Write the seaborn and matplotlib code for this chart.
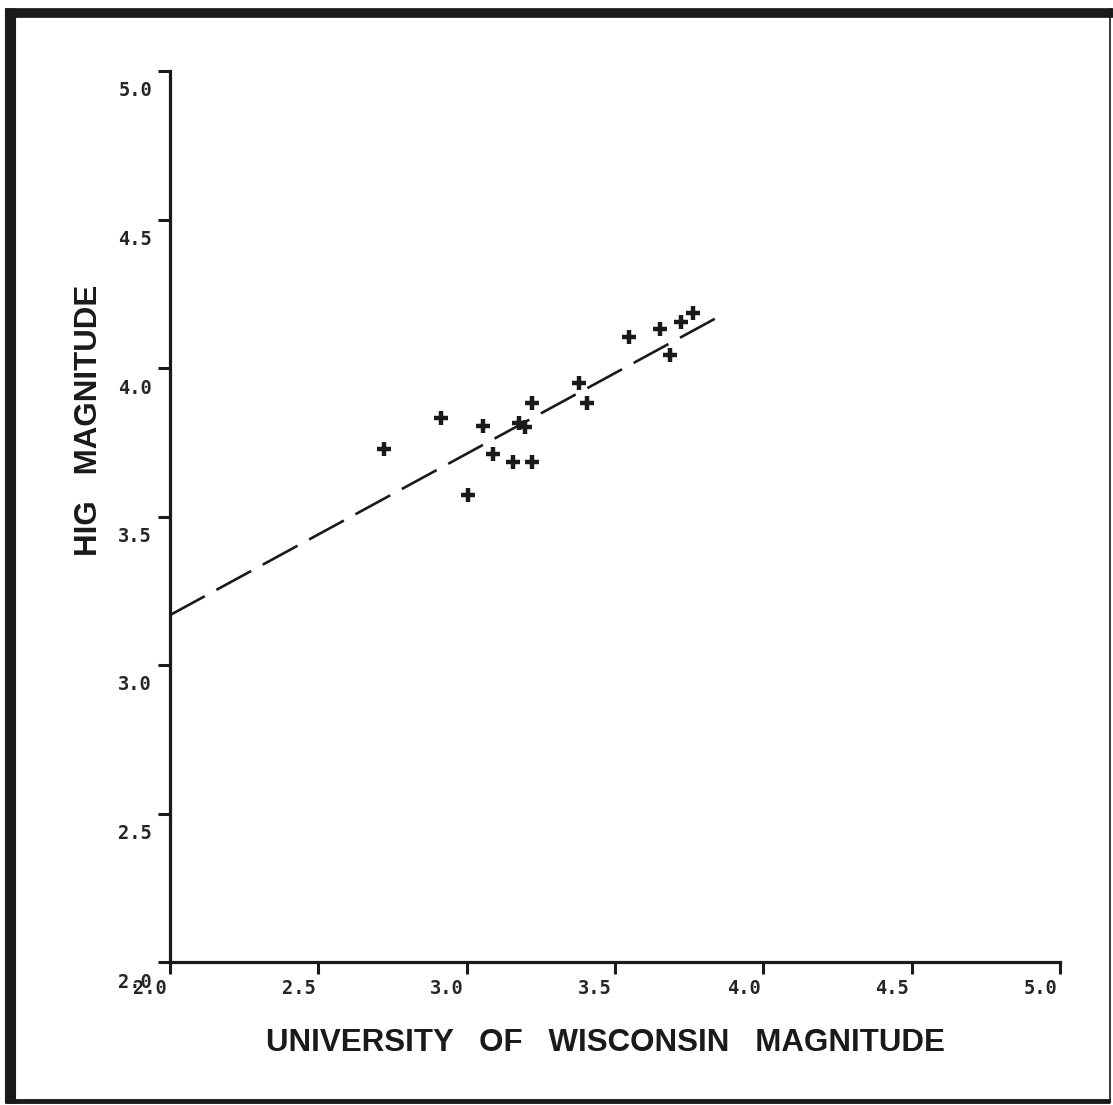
import matplotlib
matplotlib.use("Agg")
import matplotlib.pyplot as plt
import matplotlib.transforms as mtransforms
from matplotlib.lines import Line2D
import seaborn as sns
import pandas as pd

# ---- data ----
uw_mag = [2.72, 2.915, 3.056, 3.004, 3.088, 3.155, 3.219, 3.178, 3.198,
          3.219, 3.378, 3.407, 3.547, 3.653, 3.684, 3.723, 3.764]
hig_mag = [3.727, 3.833, 3.806, 3.571, 3.709, 3.684, 3.684, 3.814, 3.802,
           3.881, 3.951, 3.881, 4.103, 4.132, 4.043, 4.155, 4.186]
fit_x = [2.0, 3.85]
fit_y = [3.168, 4.173]
tick_vals = [2.0, 2.5, 3.0, 3.5, 4.0, 4.5, 5.0]
tick_labels = ["2.0", "2.5", "3.0", "3.5", "4.0", "4.5", "5.0"]
x_title = "UNIVERSITY   OF   WISCONSIN   MAGNITUDE"
y_title = "HIG   MAGNITUDE"

sns.set_style("ticks")
plt.rcParams['font.family'] = ['Liberation Sans', 'DejaVu Sans']

W, H = 1113, 1105
fig = plt.figure(figsize=(W / 100, H / 100), dpi=100)
ax = fig.add_axes([170 / W, 1 - 962 / H, 890 / W, 891 / H])

pts = pd.DataFrame({"uw": uw_mag, "hig": hig_mag})
fit = pd.DataFrame({"x": fit_x, "y": fit_y})

sns.lineplot(data=fit, x="x", y="y", ax=ax, color="#1a1a1a", linewidth=1.9,
             linestyle=(0, (15, 5)), sort=False)
sns.scatterplot(data=pts, x="uw", y="hig", ax=ax, marker="+", s=95,
                color="#1a1a1a", linewidth=3.2)

ax.set_xlim(2.0, 5.0)
ax.set_ylim(2.0, 5.0)
for s in ["top", "right"]:
    ax.spines[s].set_visible(False)
for s in ["left", "bottom"]:
    ax.spines[s].set_linewidth(2.3)
    ax.spines[s].set_color("#1a1a1a")

ax.set_xticks(tick_vals)
ax.set_xticklabels(tick_labels)
ax.set_yticks(tick_vals)
ax.set_yticklabels(tick_labels)
ax.tick_params(axis="both", direction="out", length=8.5, width=2.2,
               color="#1a1a1a", labelsize=13.5)
ax.tick_params(axis="x", pad=3.5)
ax.tick_params(axis="y", pad=4.5)

for lab in ax.get_xticklabels():
    lab.set_fontfamily("DejaVu Sans Mono")
    lab.set_fontweight("bold")
    lab.set_ha("right")
    lab.set_transform(lab.get_transform() +
                      mtransforms.ScaledTranslation(-0.03, 0, fig.dpi_scale_trans))
for lab in ax.get_yticklabels():
    lab.set_fontfamily("DejaVu Sans Mono")
    lab.set_fontweight("bold")
    lab.set_transform(lab.get_transform() +
                      mtransforms.ScaledTranslation(0, -0.18, fig.dpi_scale_trans))

ax.set_xlabel("")
ax.set_ylabel("")
fig.text(605 / W, 1 - 1043 / H, x_title, ha="center", va="center",
         fontsize=22.5, fontweight="bold", color="#1a1a1a")
fig.text(89 / W, 1 - 420 / H, y_title, ha="center", va="center",
         rotation=90, fontsize=22.5, fontweight="bold", color="#1a1a1a")

# page border
def px_line(x0, y0, x1, y1, lw):
    fig.add_artist(Line2D([x0 / W, x1 / W], [1 - y0 / H, 1 - y1 / H],
                          transform=fig.transFigure, color="#1a1a1a",
                          linewidth=lw, solid_capstyle="butt"))

px_line(10, 8, 10, 1103, 8)
px_line(5, 12.5, 1113, 12.5, 7)
px_line(5, 1101, 1110, 1101, 3.5)
px_line(1110, 8, 1110, 1103, 1.2)

fig.savefig("out.png", dpi=100, facecolor="white")
